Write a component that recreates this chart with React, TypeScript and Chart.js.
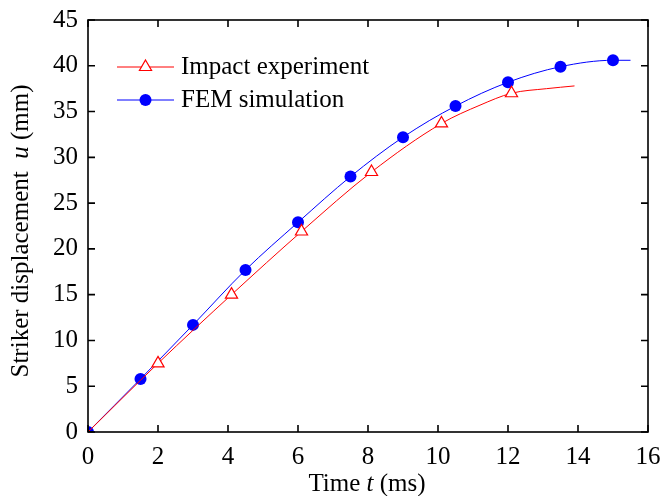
import {useEffect, useRef} from "react";
import {Chart, registerables} from "chart.js";

Chart.register(...registerables);

// FEM simulation (blue, filled circles)
const femTime = [0, 1.5, 3, 4.5, 6, 7.5, 9, 10.5, 12, 13.5, 15, 15.5];
const femDisp = [0, 5.8, 11.7, 17.7, 22.9, 27.9, 32.2, 35.6, 38.2, 39.9, 40.6, 40.6];
const femMarker = [true, true, true, true, true, true, true, true, true, true, true, false];

// impact experiment (red, open triangles)
const expTime = [0, 2, 4.1, 6.1, 8.1, 10.1, 11.2, 12.1, 13.1, 13.9];
const expDisp = [0, 7.5, 15.0, 21.9, 28.4, 33.7, 35.7, 37.0, 37.5, 37.8];
const expMarker = [false, true, true, true, true, true, false, true, false, false];

const xTicks = [0, 2, 4, 6, 8, 10, 12, 14, 16];
const yTicks = [0, 5, 10, 15, 20, 25, 30, 35, 40, 45];

const legendLabels = ["Impact experiment", "FEM simulation"];

const FONT = '"Liberation Serif", "Times New Roman", serif';
const SIZE = 25;
const RED = '#ff0000';
const BLUE = '#0000ff';

// draws a run of text pieces (some italic) centred at (cx, cy)
const drawMixed = (ctx: CanvasRenderingContext2D, parts: [string, boolean][], cx: number, cy: number) => {
    const widths = parts.map(([s, it]) => {
        ctx.font = `${it ? 'italic ' : ''}${SIZE}px ${FONT}`;
        return ctx.measureText(s).width;
    });
    const total = widths.reduce((a, b) => a + b, 0);
    let x = cx - total / 2;
    ctx.textAlign = 'left';
    ctx.textBaseline = 'middle';
    parts.forEach(([s, it], i) => {
        ctx.font = `${it ? 'italic ' : ''}${SIZE}px ${FONT}`;
        ctx.fillText(s, x, cy);
        x += widths[i];
    });
};

const framePlugin = {
    id: 'frame',
    afterDatasetsDraw(chart: any) {
        const {ctx, chartArea: a, scales} = chart;
        ctx.save();
        ctx.strokeStyle = '#000';
        ctx.lineWidth = 1.6;
        ctx.strokeRect(a.left, a.top, a.right - a.left, a.bottom - a.top);
        ctx.beginPath();
        const tl = 7;
        xTicks.forEach(v => {
            const x = scales.x.getPixelForValue(v);
            ctx.moveTo(x, a.bottom);
            ctx.lineTo(x, a.bottom - tl);
            ctx.moveTo(x, a.top);
            ctx.lineTo(x, a.top + tl);
        });
        yTicks.forEach(v => {
            const y = scales.y.getPixelForValue(v);
            ctx.moveTo(a.left, y);
            ctx.lineTo(a.left + tl, y);
            ctx.moveTo(a.right, y);
            ctx.lineTo(a.right - tl, y);
        });
        ctx.stroke();

        // legend
        const rows = [
            {label: legendLabels[0], color: RED, style: 'triangle'},
            {label: legendLabels[1], color: BLUE, style: 'circle'},
        ];
        rows.forEach((r, i) => {
            const y = a.top + 47 + i * 33;
            const x0 = a.left + 29;
            const x1 = a.left + 86;
            const xm = (x0 + x1) / 2;
            ctx.strokeStyle = r.color;
            ctx.lineWidth = 1;
            ctx.beginPath();
            ctx.moveTo(x0, y);
            ctx.lineTo(x1, y);
            ctx.stroke();
            ctx.beginPath();
            if (r.style === 'circle') {
                ctx.fillStyle = r.color;
                ctx.arc(xm, y, 6, 0, Math.PI * 2);
                ctx.fill();
            } else {
                const rad = 7;
                ctx.fillStyle = '#fff';
                ctx.moveTo(xm, y - rad);
                ctx.lineTo(xm + rad * Math.sin(2 * Math.PI / 3), y + rad / 2);
                ctx.lineTo(xm - rad * Math.sin(2 * Math.PI / 3), y + rad / 2);
                ctx.closePath();
                ctx.fill();
                ctx.lineWidth = 1.2;
                ctx.stroke();
            }
            ctx.fillStyle = '#000';
            ctx.font = `${SIZE}px ${FONT}`;
            ctx.textAlign = 'left';
            ctx.textBaseline = 'middle';
            ctx.fillText(r.label, a.left + 93, y);
        });

        // axis titles
        ctx.fillStyle = '#000';
        drawMixed(ctx, [["Time ", false], ["t", true], [" (ms)", false]], (a.left + a.right) / 2 - 1, 484);
        ctx.save();
        ctx.translate(21, 231);
        ctx.rotate(-Math.PI / 2);
        drawMixed(ctx, [["Striker displacement  ", false], ["u", true], [" (mm)", false]], 0, 0);
        ctx.restore();
        ctx.restore();
    }
};

const App = () => {
    const canvasRef = useRef<HTMLCanvasElement>(null);

    useEffect(() => {
        const ctx = canvasRef.current;
        if (!ctx) return;
        document.body.style.margin = '0';

        const myChart = new Chart(ctx, {
            type: 'line',
            data: {
                datasets: [
                    {
                        label: legendLabels[0],
                        data: expTime.map((t, i) => ({x: t, y: expDisp[i]})),
                        borderColor: RED,
                        backgroundColor: '#ffffff',
                        borderWidth: 1,
                        pointStyle: 'triangle',
                        pointRadius: expMarker.map(m => (m ? 7 : 0)),
                        pointBorderWidth: 1.2,
                        pointBorderColor: RED,
                        pointBackgroundColor: '#ffffff',
                        cubicInterpolationMode: 'monotone',
                    },
                    {
                        label: legendLabels[1],
                        data: femTime.map((t, i) => ({x: t, y: femDisp[i]})),
                        borderColor: BLUE,
                        backgroundColor: BLUE,
                        borderWidth: 1,
                        pointStyle: 'circle',
                        pointRadius: femMarker.map(m => (m ? 6 : 0)),
                        pointBorderWidth: 0,
                        pointBackgroundColor: BLUE,
                        cubicInterpolationMode: 'monotone',
                    },
                ]
            },
            options: {
                responsive: true,
                maintainAspectRatio: false,
                animation: false,
                layout: {padding: {left: 0, right: 16, top: 20, bottom: 0}},
                plugins: {
                    legend: {display: false},
                    tooltip: {enabled: false},
                },
                scales: {
                    x: {
                        type: 'linear',
                        min: 0,
                        max: 16,
                        afterBuildTicks: (s: any) => { s.ticks = xTicks.map(v => ({value: v})); },
                        afterFit: (s: any) => {
                            s.height = 64;
                            s.paddingLeft = 0;
                            s.paddingRight = 0;
                        },
                        grid: {display: false, drawTicks: false},
                        border: {display: false},
                        ticks: {
                            padding: 10,
                            color: '#000',
                            font: {family: FONT, size: SIZE},
                            maxRotation: 0,
                        },
                    },
                    y: {
                        type: 'linear',
                        min: 0,
                        max: 45,
                        afterBuildTicks: (s: any) => { s.ticks = yTicks.map(v => ({value: v})); },
                        afterFit: (s: any) => {
                            s.width = 88;
                            s.paddingTop = 0;
                            s.paddingBottom = 0;
                        },
                        grid: {display: false, drawTicks: false},
                        border: {display: false},
                        ticks: {
                            padding: 10,
                            color: '#000',
                            font: {family: FONT, size: SIZE},
                        },
                    },
                },
            },
            plugins: [framePlugin],
        });
        return () => {
            myChart.destroy();
        };
    }, []);

    return (
        <div style={{width: 664, height: 496, position: 'relative', background: '#fff'}}>
            <canvas ref={canvasRef}></canvas>
        </div>
    );
};
export default App;
